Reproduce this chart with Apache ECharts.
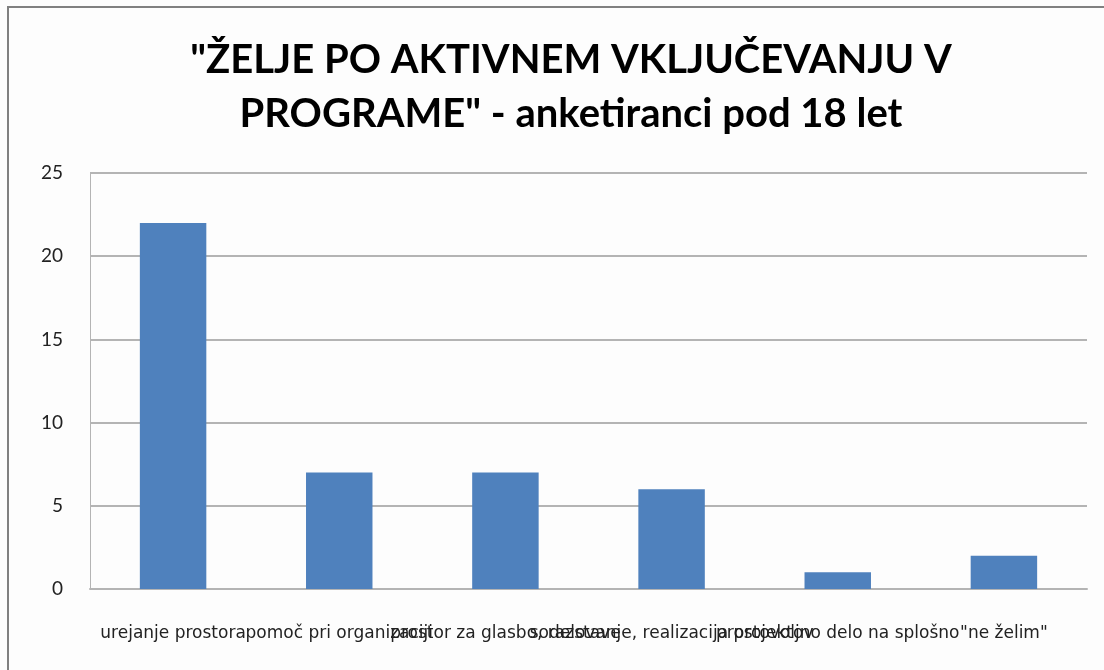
<!DOCTYPE html>
<html>
<head>
<meta charset="utf-8">
<script src="https://cdn.jsdelivr.net/npm/echarts@6/dist/echarts.min.js"></script>
<style>
html, body { margin: 0; padding: 0; background: #ffffff; }
#main { width: 1104px; height: 670px; }
</style>
</head>
<body>
<div id="main"></div>
<script>
// podatki
var categories = [
	'urejanje prostora',
	'pomoč pri organizaciji',
	'prostor za glasbo, razstave',
	'sodelovanje, realizacija projektov',
	'prostovoljno delo na splošno',
	'"ne želim"'
];
var values = [22, 7, 7, 6, 1, 2];
var titleText = '"ŽELJE PO AKTIVNEM VKLJUČEVANJU V\nPROGRAME" - anketiranci pod 18 let';

var myChart = echarts.init(document.getElementById('main'));
var option = {
	backgroundColor: '#fdfdfd',
	animation: false,
	title: {
		text: titleText,
		left: 566,
		top: 28,
		textAlign: 'center',
		textStyle: {
			fontFamily: 'Lato',
			fontWeight: 'bold',
			fontSize: 40,
			lineHeight: 54,
			color: '#000'
		}
	},
	// okvir slike
	graphic: [{
		type: 'rect',
		shape: { x: 8, y: 7, width: 1110, height: 700 },
		style: { fill: 'none', stroke: '#808080', lineWidth: 2 },
		silent: true
	}],
	grid: {
		left: 90,
		right: 17,
		top: 173,
		bottom: 81
	},
	xAxis: {
		type: 'category',
		data: categories,
		axisTick: { show: false },
		axisLine: { lineStyle: { color: '#b4b4b4', width: 2 } },
		axisLabel: {
			interval: 0,
			hideOverlap: false,
			margin: 36,
			fontFamily: 'DejaVu Sans',
			fontSize: 17,
			color: '#222'
		}
	},
	yAxis: {
		type: 'value',
		min: 0,
		max: 25,
		interval: 5,
		axisLine: { show: true, lineStyle: { color: '#b4b4b4', width: 1 } },
		axisTick: { show: false },
		splitLine: { lineStyle: { color: '#b4b4b4', width: 2 } },
		axisLabel: {
			margin: 27,
			fontFamily: 'Lato',
			fontSize: 19,
			color: '#222'
		}
	},
	series: [{
		type: 'bar',
		data: values,
		barWidth: '40%',
		itemStyle: { color: '#4f81bd' }
	}]
};
myChart.setOption(option);
</script>
</body>
</html>
